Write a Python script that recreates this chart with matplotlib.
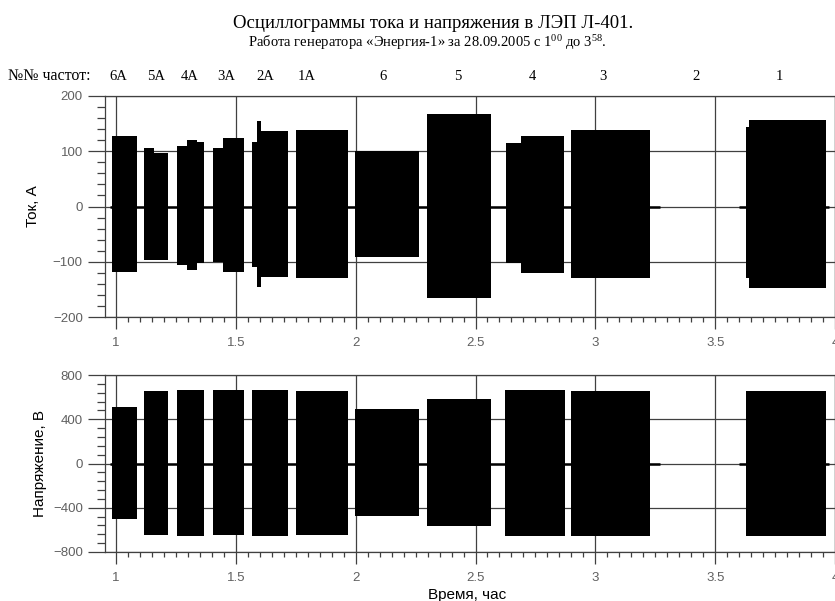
import matplotlib
matplotlib.use("Agg")
import matplotlib.pyplot as plt
from matplotlib.ticker import MultipleLocator, FormatStrFormatter

plt.rcParams['font.family'] = ['Liberation Sans', 'DejaVu Sans']
plt.rcParams['mathtext.fontset'] = 'custom'
plt.rcParams['mathtext.rm'] = 'Liberation Serif'

# frequency labels above the top panel (time, h)
freq_labels = ['6А', '5А', '4А', '3А', '2А', '1А', '6', '5', '4', '3', '2', '1']
freq_pos = [1.008, 1.167, 1.309, 1.459, 1.621, 1.796, 2.113, 2.426, 2.739, 3.031, 3.419, 3.769]

# current bursts: start, end, upper and lower envelope (A)
cur_t0 = [0.985, 1.118, 1.160, 1.255, 1.297, 1.336, 1.403, 1.445, 1.566, 1.590, 1.607,
          1.750, 1.999, 2.299, 2.628, 2.690, 2.899, 3.628, 3.642]
cur_t1 = [1.086, 1.160, 1.218, 1.297, 1.336, 1.366, 1.445, 1.533, 1.590, 1.607, 1.717,
          1.968, 2.264, 2.565, 2.690, 2.871, 3.227, 3.642, 3.961]
cur_top = [127, 105, 97, 110, 120, 116, 106, 124, 116, 155, 136,
           138, 100, 167, 115, 128, 139, 143, 156]
cur_bot = [-119, -96, -96, -106, -115, -103, -100, -118, -109, -145, -127,
           -129, -91, -165, -103, -121, -129, -130, -148]

# voltage bursts (V)
volt_t0 = [0.985, 1.118, 1.255, 1.403, 1.566, 1.750, 1.999, 2.298, 2.625, 2.900, 3.628]
volt_t1 = [1.086, 1.218, 1.366, 1.533, 1.717, 1.968, 2.264, 2.566, 2.875, 3.229, 3.961]
volt_top = [515, 655, 665, 660, 665, 655, 490, 582, 667, 658, 652]
volt_bot = [-505, -645, -655, -650, -655, -650, -479, -568, -652, -658, -652]

# idle signal segments around zero
base_t0 = [0.975, 3.598]
base_t1 = [3.268, 3.975]
base_y = [0, 0]

fig = plt.figure(figsize=(8.35, 6.01), dpi=100)
ax1 = fig.add_axes([105 / 835, 1 - 317 / 601, 730 / 835, 221 / 601])
ax2 = fig.add_axes([105 / 835, 1 - 552 / 601, 730 / 835, 177 / 601])

grid_c = '#404040'
tick_c = '#606060'


def style(ax, ymin, ymax, major, minor):
    ax.set_xlim(0.954, 4.0)
    ax.set_ylim(ymin, ymax)
    ax.xaxis.set_major_locator(MultipleLocator(0.5))
    ax.xaxis.set_minor_locator(MultipleLocator(0.05))
    ax.xaxis.set_major_formatter(FormatStrFormatter('%g'))
    ax.yaxis.set_major_locator(MultipleLocator(major))
    ax.yaxis.set_minor_locator(MultipleLocator(minor))
    ax.set_axisbelow(True)
    ax.grid(True, which='major', color=grid_c, lw=0.9)
    ax.tick_params(axis='x', which='major', length=8.5, width=0.9, color=grid_c,
                   labelcolor=tick_c, labelsize=9.5, pad=6)
    ax.tick_params(axis='x', which='minor', length=3.6, width=0.9, color=grid_c)
    ax.tick_params(axis='y', which='major', length=12, width=0.9, color=grid_c,
                   labelcolor=tick_c, labelsize=9.5, pad=4)
    ax.tick_params(axis='y', which='minor', length=6, width=0.9, color=grid_c)
    for s in ax.spines.values():
        s.set_color(grid_c)
        s.set_linewidth(0.9)


style(ax1, -200, 200, 100, 20)
style(ax2, -800, 800, 400, 80)

w = [b - a for a, b in zip(cur_t0, cur_t1)]
h = [t - b for t, b in zip(cur_top, cur_bot)]
ax1.bar(cur_t0, h, width=w, bottom=cur_bot, align='edge', color='black', lw=0)
ax1.hlines(base_y, base_t0, base_t1, color='black', lw=1.8)

w = [b - a for a, b in zip(volt_t0, volt_t1)]
h = [t - b for t, b in zip(volt_top, volt_bot)]
ax2.bar(volt_t0, h, width=w, bottom=volt_bot, align='edge', color='black', lw=0)
ax2.hlines(base_y, base_t0, base_t1, color='black', lw=1.8)

ax1.set_ylabel('Ток, А', fontsize=11)
ax1.yaxis.set_label_coords(-0.089, 0.5)
ax2.set_ylabel('Напряжение, В', fontsize=11)
ax2.yaxis.set_label_coords(-0.079, 0.5)
ax2.set_xlabel('Время, час', fontsize=11)
ax2.xaxis.set_label_coords(0.496, -0.205)

serif = ['Liberation Serif', 'DejaVu Serif']
for lab, pos in zip(freq_labels, freq_pos):
    ax1.text(pos, 1.09, lab, transform=ax1.get_xaxis_transform(), ha='center',
             va='center', fontsize=10.5, family=serif)
fig.text(8 / 835, 1 - 76 / 601, '№№ частот:', ha='left', va='center', fontsize=11.5, family=serif)

fig.text(433 / 835, 1 - 23 / 601, 'Осциллограммы тока и напряжения в ЛЭП Л-401.',
         ha='center', va='center', fontsize=13.5, family=serif)
fig.text(427 / 835, 1 - 43 / 601,
         r'Работа генератора «Энергия-1» за 28.09.2005 с $\mathregular{1^{00}}$ до $\mathregular{3^{58}}$.',
         ha='center', va='center', fontsize=10.5, family=serif)

fig.savefig('out.png', dpi=100)
